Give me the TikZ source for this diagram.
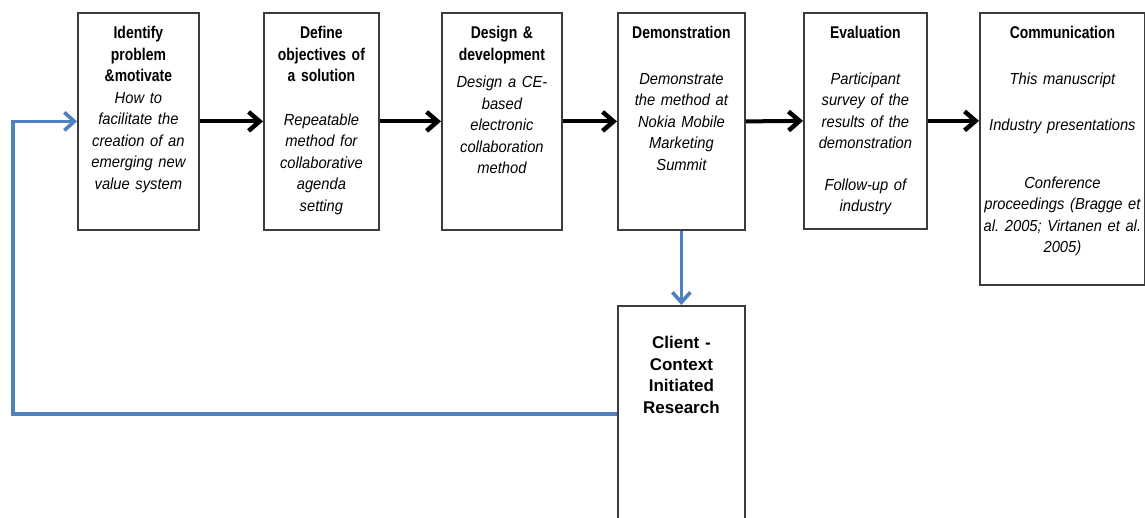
\documentclass[tikz,border=0pt]{standalone}
\usepackage{fontspec}
\usetikzlibrary{arrows.meta}
\newfontfamily\hdfam[FakeStretch=0.82]{Liberation Sans}
\newfontfamily\itfam[FakeStretch=0.92]{Liberation Sans}
\newfontfamily\clfam{Liberation Sans}
\newcommand\hdf{\hdfam\bfseries\upshape\fontsize{17}{21.5}\selectfont}
\newcommand\itf{\itfam\mdseries\itshape\fontsize{16}{21.5}\selectfont}
\newcommand\clf{\clfam\bfseries\fontsize{17}{21.5}\selectfont}
\hyphenpenalty=10000
\exhyphenpenalty=10000
\frenchspacing
\definecolor{flowblue}{HTML}{4F81BD}
\definecolor{boxgray}{HTML}{3C3C3C}
\tikzset{
  stepbox/.style={draw=boxgray, line width=1.8, fill=white, rectangle, anchor=north west, inner sep=0},
  txt/.style={anchor=north, inner sep=0, align=center, font=\hdf},
  flow/.style={line width=4, -{Straight Barb[length=11pt,width=19pt,line width=4.5pt]}},
  back/.style={draw=flowblue, line width=3.2, -{Straight Barb[length=10pt,width=18pt,line width=3.6pt]}}
}
\begin{document}
\begin{tikzpicture}[x=1pt,y=-1pt]
\useasboundingbox (0,0) rectangle (1145,518);
\clip (0,0) rectangle (1145,518);
\fill[white] (0,0) rectangle (1145,518);
% boxes
\node[stepbox, minimum width=121, minimum height=217] (b1) at (77,12) {};
\node[stepbox, minimum width=115, minimum height=217] (b2) at (263,12) {};
\node[stepbox, minimum width=120, minimum height=217] (b3) at (441,12) {};
\node[stepbox, minimum width=127, minimum height=217] (b4) at (617,12) {};
\node[stepbox, minimum width=123, minimum height=216] (b5) at (803,12) {};
\node[stepbox, minimum width=165, minimum height=272] (b6) at (979,12) {};
\node[stepbox, minimum width=127, minimum height=216] (c) at (617,305) {};
% texts
\node[txt, text width=118] (t1) at ([yshift=-14pt]b1.north)
  {Identify\\problem\\\&motivate\\\itf How to\\facilitate the\\creation of an\\emerging new\\value system};
\node[txt, text width=114] (t2) at ([yshift=-14pt]b2.north)
  {Define\\objectives of\\a solution\\[22pt]\itf Repeatable\\method for\\collaborative\\agenda\\setting};
\node[txt, text width=118] (t3) at ([yshift=-14pt]b3.north)
  {Design \&\\development\\[6pt]\itf Design a CE-\\based\\electronic\\collaboration\\method};
\node[txt, text width=124] (t4) at ([yshift=-14pt]b4.north)
  {Demonstration\\[24pt]\itf Demonstrate\\the method at\\Nokia Mobile\\Marketing\\Summit};
\node[txt, text width=120] (t5) at ([yshift=-14pt]b5.north)
  {Evaluation\\[24pt]\itf Participant\\survey of the\\results of the\\demonstration\\[20pt]Follow-up of\\industry};
\node[txt, text width=164] (t6) at ([yshift=-14pt]b6.north)
  {Communication\\[24pt]\itf This manuscript\\[25pt]Industry presentations\\[36pt]Conference\\proceedings (Bragge et\\al. 2005; Virtanen et al.\\2005)};
\node[txt, text width=124, font=\clf] (tc) at ([yshift=-31pt]c.north)
  {Client -\\Context\\Initiated\\Research};
% connectors
\draw[flow] (b1.east) -- (b2.west);
\draw[flow] (b2.east) -- (b3.west);
\draw[flow] (b3.east) -- (b4.west);
\draw[flow] (b4.east) -- (b5.west);
\draw[flow] (b5.east) -- (b5.east -| b6.west);
\draw[back] (b4.south) -- (c.north);
\coordinate (lc) at (13,413);
\draw[back] (c.west) -- (c.west -| lc) -- (lc |- b1.west) -- (b1.west);
\end{tikzpicture}
\end{document}
